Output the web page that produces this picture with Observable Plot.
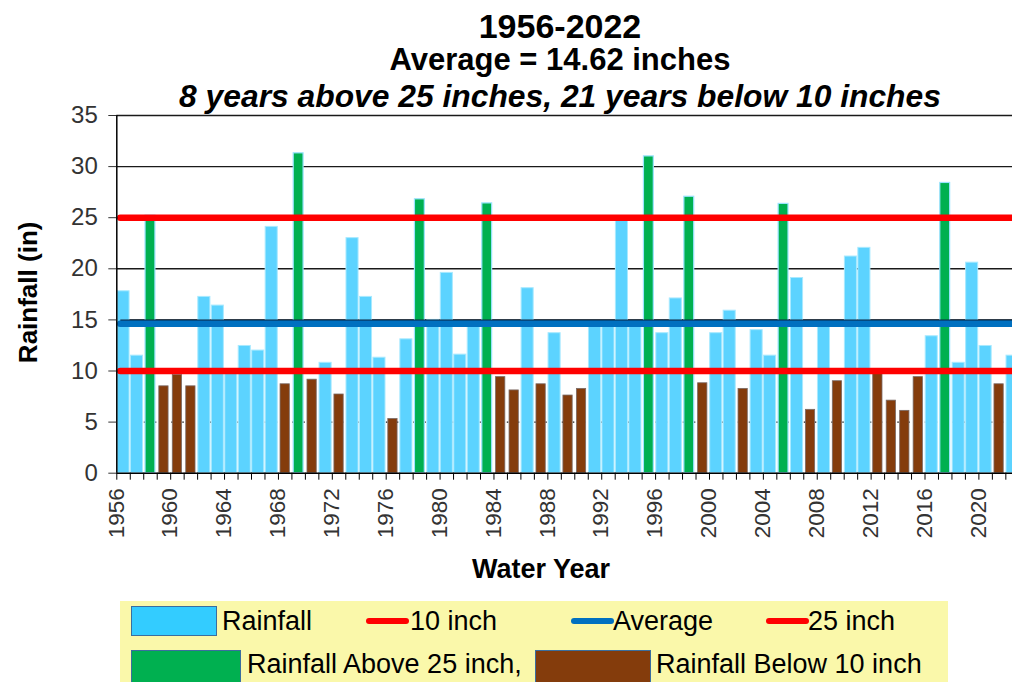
<!DOCTYPE html>
<html>
<head>
<meta charset="utf-8">
<script src="https://cdn.jsdelivr.net/npm/d3@7"></script>
<script src="https://cdn.jsdelivr.net/npm/@observablehq/plot@0.6"></script>
<style>
  html, body { margin: 0; padding: 0; background: #fff; overflow: hidden; }
  body { width: 1012px; height: 682px; font-family: "Liberation Sans", Arial, sans-serif; }
  #header { position: relative; height: 100px; }
  .t { position: absolute; left: 0; width: 1120px; text-align: center; white-space: nowrap; color: #000; font-weight: bold; }
  #legend { position: relative; height: 82px; }
  .box { position: absolute; left: 120px; top: 1px; width: 828px; height: 100px; background: #FAF8AA; }
  .sw { position: absolute; box-sizing: border-box; }
  .ln { position: absolute; height: 6px; border-radius: 3px; }
  .lt { position: absolute; font-size: 27px; line-height: 27px; height: 27px; white-space: nowrap; color: #000; }
</style>
</head>
<body>
<div id="header">
  <div class="t" id="t1" style="top:9px; font-size:34px; line-height:34px;"></div>
  <div class="t" id="t2" style="top:44px; font-size:31px; line-height:31px;"></div>
  <div class="t" id="t3" style="top:81px; font-size:31.8px; line-height:31.8px; font-style:italic;"></div>
</div>
<div id="chart"></div>
<div id="legend"></div>
<script>
// ---- data ----
const years = d3.range(1956, 2023);
const rainfall = [
  17.8, 11.5, 25.2, 8.5, 9.6, 8.5, 17.25, 16.4, 10.1, 12.45,
  12.0, 24.1, 8.7, 31.3, 9.15, 10.8, 7.7, 23.0, 17.25, 11.3,
  5.3, 13.1, 26.8, 15.0, 19.6, 11.6, 14.6, 26.4, 9.4, 8.1,
  18.1, 8.7, 13.7, 7.6, 8.25, 14.5, 14.4, 24.7, 14.5, 31.0,
  13.7, 17.1, 27.05, 8.8, 13.7, 15.9, 8.25, 14.0, 11.5, 26.35,
  19.1, 6.2, 14.4, 9.0, 21.2, 22.05, 9.8, 7.1, 6.1, 9.4,
  13.4, 28.4, 10.8, 20.6, 12.45, 8.7, 11.5
];
const average = 14.62;
const lowLine = 10;
const highLine = 25;
const yTicks = [0, 5, 10, 15, 20, 25, 30, 35];
const xLabelYears = [1956, 1960, 1964, 1968, 1972, 1976, 1980, 1984, 1988, 1992, 1996, 2000, 2004, 2008, 2012, 2016, 2020];
const titleLines = ["1956-2022", "Average = 14.62 inches", "8 years above 25 inches, 21 years below 10 inches"];
const legendLabels = ["Rainfall", "10 inch", "Average", "25 inch", "Rainfall Above 25 inch,", "Rainfall Below 10 inch"];

const data = years.map((year, i) => ({
  year,
  value: rainfall[i],
  cat: rainfall[i] > highLine ? "above" : rainfall[i] < lowLine ? "below" : "normal"
}));
const boundaries = years.concat([years[years.length - 1] + 1]);

document.getElementById("t1").textContent = titleLines[0];
document.getElementById("t2").textContent = titleLines[1];
document.getElementById("t3").textContent = titleLines[2];

const chart = Plot.plot({
  width: 1012,
  height: 500,
  marginTop: 15,
  marginLeft: 116.3,
  marginRight: -6.8,
  marginBottom: 127.3,
  style: { fontFamily: "Liberation Sans, Arial, sans-serif", background: "white", overflow: "hidden" },
  x: { domain: [boundaries[0], boundaries[boundaries.length - 1]], axis: null },
  y: { domain: [0, 35], axis: null },
  marks: [
    Plot.ruleY(yTicks.filter(t => t > 5), { stroke: "#1a1a1a", strokeWidth: 1.4 }),
    Plot.ruleY([5], { stroke: "#1a1a1a", strokeWidth: 1.4, strokeDasharray: "1.5,4" }),
    Plot.rectY(data.filter(d => d.cat === "normal"), { x: "year", interval: 1, y: "value", fill: "#5CD3FF", stroke: "#A8E9FF", strokeWidth: 1, insetLeft: 0.7, insetRight: 0.7 }),
    Plot.rectY(data.filter(d => d.cat === "above"), { x: "year", interval: 1, y: "value", fill: "#00B050", stroke: "#9BE3FF", strokeWidth: 1.2, insetLeft: 1.8, insetRight: 1.8 }),
    Plot.rectY(data.filter(d => d.cat === "below"), { x: "year", interval: 1, y: "value", fill: "#843C0C", stroke: "#7a6a66", strokeWidth: 0.8, insetLeft: 2.1, insetRight: 2.1 }),
    Plot.ruleY([lowLine, highLine], { stroke: "#FF0000", strokeWidth: 6.6, strokeLinecap: "round", insetLeft: 4 }),
    Plot.ruleY([average], { stroke: "#0A2540", strokeWidth: 2, dy: -3.2, insetLeft: 4 }),
    Plot.ruleY([average], { stroke: "#0070C0", strokeWidth: 6.6, strokeLinecap: "round", insetLeft: 4 }),
    Plot.ruleX([boundaries[0]], { stroke: "#000", strokeWidth: 1.5 }),
    Plot.ruleY([0], { stroke: "#000", strokeWidth: 1.5 }),
    Plot.axisY({ ticks: yTicks, tickSize: 8, tickPadding: 11, fontSize: 24, color: "#333", label: null }),
    Plot.axisX({ ticks: boundaries, tickSize: 7, tickFormat: () => "", color: "#000", label: null }),
    Plot.text(xLabelYears, { x: d => d + 0.5, text: d => String(d), frameAnchor: "bottom", rotate: -90, textAnchor: "end", dy: 15, fontSize: 22.5, fill: "#333" }),
    Plot.text(["Rainfall (in)"], { frameAnchor: "left", textAnchor: "middle", rotate: -90, dx: -88, dy: -2, fontSize: 26, fontWeight: "bold", fill: "#000" }),
    Plot.text(["Water Year"], { frameAnchor: "bottom", dx: -27, dy: 105, fontSize: 27, fontWeight: "bold", fill: "#000" })
  ]
});
document.getElementById("chart").appendChild(chart);

// ---- legend ----
const legend = document.getElementById("legend");
legend.innerHTML = `
  <div class="box"></div>
  <div class="sw" style="left:131px; top:6px; width:86px; height:30px; background:#33CCFF; border:1.5px solid #3A6E9F;"></div>
  <div class="lt" style="left:222px; top:8px;">${legendLabels[0]}</div>
  <div class="ln" style="left:366px; top:18px; width:43px; background:#FF0000;"></div>
  <div class="lt" style="left:410px; top:8px;">${legendLabels[1]}</div>
  <div class="ln" style="left:571px; top:18px; width:43px; background:#0070C0;"></div>
  <div class="lt" style="left:613px; top:8px;">${legendLabels[2]}</div>
  <div class="ln" style="left:766px; top:18px; width:43px; background:#FF0000;"></div>
  <div class="lt" style="left:808px; top:8px;">${legendLabels[3]}</div>
  <div class="sw" style="left:131px; top:50px; width:110px; height:40px; background:#00B050; border:1.5px solid #3A6E9F;"></div>
  <div class="lt" style="left:247px; top:51px;">${legendLabels[4]}</div>
  <div class="sw" style="left:535px; top:50px; width:116px; height:40px; background:#843C0C; border:1.5px solid #3A6E9F;"></div>
  <div class="lt" style="left:656px; top:51px;">${legendLabels[5]}</div>
`;
</script>
</body>
</html>
